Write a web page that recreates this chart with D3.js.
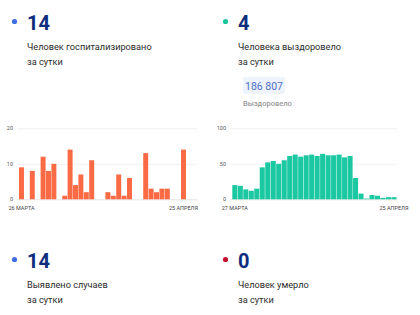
<!DOCTYPE html>
<html>
<head>
<meta charset="utf-8">
<script src="https://cdn.jsdelivr.net/npm/d3@7"></script>
<style>
  body { margin: 0; background: #fff; font-family: Roboto, "Noto Sans", sans-serif; }
  svg { display: block; }
</style>
</head>
<body>
<svg id="chart" width="420" height="315"></svg>
<script>
// Hospitalised per day, 26.03 - 25.04
var hospDays = ['26.03','27.03','28.03','29.03','30.03','31.03','01.04','02.04','03.04','04.04',
  '05.04','06.04','07.04','08.04','09.04','10.04','11.04','12.04','13.04','14.04','15.04',
  '16.04','17.04','18.04','19.04','20.04','21.04','22.04','23.04','24.04','25.04'];
var hospValues = [9,0,8,0,12,8,10,0,1,14,4,7,2,11,0,0,2,1,7,1,6,0,0,13,3,2,3,3,0,0,14];
var hospTicks = [0, 10, 20];
var hospLabels = ['26 МАРТА', '25 АПРЕЛЯ'];

// Recovered per day, 27.03 - 25.04
var recDays = ['27.03','28.03','29.03','30.03','31.03','01.04','02.04','03.04','04.04',
  '05.04','06.04','07.04','08.04','09.04','10.04','11.04','12.04','13.04','14.04','15.04',
  '16.04','17.04','18.04','19.04','20.04','21.04','22.04','23.04','24.04','25.04'];
var recValues = [20,19,14,12,15,45,52,54,50,55,61,63,60,62,63,61,64,62,62,63,59,61,30,8,1,6,5,2,3,3];
var recTicks = [0, 50, 100];
var recLabels = ['27 МАРТА', '25 АПРЕЛЯ'];

// Summary cards
var cards = [
  {value: '14', color: '#3f6fe0', lines: ['Человек госпитализировано', 'за сутки'], x: 14, y: 0},
  {value: '4', color: '#19c39f', lines: ['Человека выздоровело', 'за сутки'], x: 225, y: 0},
  {value: '14', color: '#3f6fe0', lines: ['Выявлено случаев', 'за сутки'], x: 14, y: 238},
  {value: '0', color: '#c8102e', lines: ['Человек умерло', 'за сутки'], x: 225, y: 238}
];
var totalRecovered = '186 807';

var svg = d3.select('#chart');

// cards
var card = svg.selectAll('.card')
  .data(cards)
  .enter().append('g')
    .attr('class', 'card')
    .attr('transform', function(d) { return 'translate(' + d.x + ',' + d.y + ')'; });

card.append('circle')
  .attr('cx', 0.5).attr('cy', 21.5).attr('r', 2.6)
  .style('fill', function(d) { return d.color; });

card.append('text')
  .attr('x', 13).attr('y', 29.5)
  .style('font-size', '20px').style('font-weight', 700)
  .style('fill', '#0e2d7c')
  .text(function(d) { return d.value; });

card.selectAll('.line')
  .data(function(d) { return d.lines; })
  .enter().append('text')
    .attr('class', 'line')
    .attr('x', 13)
    .attr('y', function(d, i) { return 50 + i * 15; })
    .style('font-size', '9.2px')
    .style('fill', '#2b2b2b')
    .text(function(d) { return d; });

// recovered total badge
var badge = svg.append('g').attr('transform', 'translate(243,77)');
badge.append('rect')
  .attr('width', 42).attr('height', 17).attr('rx', 2)
  .style('fill', '#eef3fc');
badge.append('text')
  .attr('x', 21).attr('y', 12.5)
  .attr('text-anchor', 'middle')
  .style('font-size', '10.5px')
  .style('fill', '#4f6fc8')
  .text(totalRecovered);
svg.append('text')
  .attr('x', 243).attr('y', 106)
  .style('font-size', '7.5px').style('font-weight', 500)
  .style('fill', '#9a9a9a')
  .text('Выздоровело');

function barChart(opts) {
  var g = svg.append('g');
  var x = d3.scaleBand()
    .domain(opts.days)
    .range([opts.x0, opts.x1])
    .paddingInner(0.08);
  var y = d3.scaleLinear()
    .domain([0, opts.ticks[opts.ticks.length - 1]])
    .range([199.3, 128.3]);

  // grid
  g.selectAll('.grid')
    .data(opts.ticks)
    .enter().append('line')
      .attr('x1', opts.gx0).attr('x2', opts.gx1)
      .attr('y1', function(d) { return y(d) + 0.5; })
      .attr('y2', function(d) { return y(d) + 0.5; })
      .style('stroke', function(d) { return d === 0 ? '#e4e4e4' : '#f0f0f0'; })
      .style('stroke-width', 1);

  // y tick labels
  g.selectAll('.ytick')
    .data(opts.ticks)
    .enter().append('text')
      .attr('x', opts.gx0 - 4)
      .attr('y', function(d) { return y(d) + 2; })
      .attr('text-anchor', 'end')
      .style('font-size', '5.5px')
      .style('fill', '#555')
      .text(function(d) { return d; });

  g.selectAll('.bar')
    .data(opts.values)
    .enter().append('rect')
      .attr('x', function(d, i) { return x(opts.days[i]); })
      .attr('width', x.bandwidth())
      .attr('y', function(d) { return y(d); })
      .attr('height', function(d) { return y(0) - y(d); })
      .style('fill', opts.color);

  // first / last date labels
  var ends = [opts.days[0], opts.days[opts.days.length - 1]];
  g.selectAll('.xlab')
    .data(opts.labels)
    .enter().append('text')
      .attr('x', function(d, i) { return x(ends[i]) + x.bandwidth() / 2; })
      .attr('y', 210)
      .attr('text-anchor', 'middle')
      .style('font-size', '5.5px')
      .style('fill', '#444')
      .text(function(d) { return d; });
}

barChart({days: hospDays, values: hospValues, ticks: hospTicks, labels: hospLabels,
  x0: 19, x1: 186, gx0: 17, gx1: 197, color: '#fa6a45'});
barChart({days: recDays, values: recValues, ticks: recTicks, labels: recLabels,
  x0: 232.3, x1: 396.5, gx0: 230, gx1: 397, color: '#1cc8a2'});
</script>
</body>
</html>
